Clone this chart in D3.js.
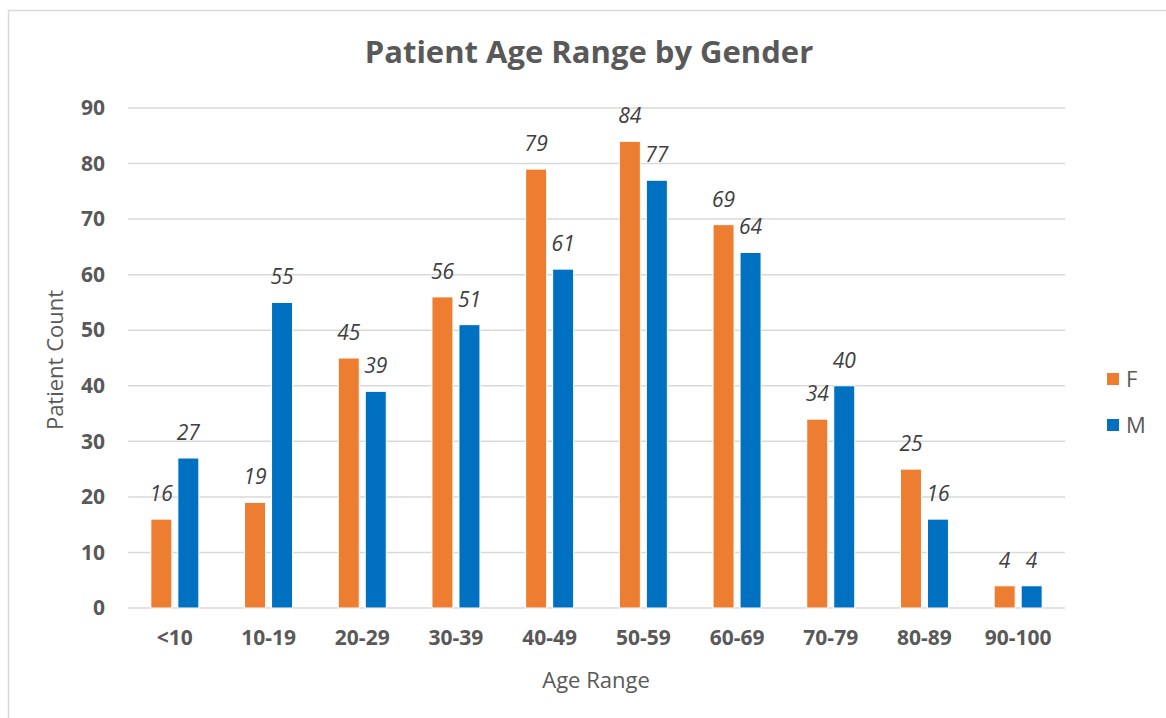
<!DOCTYPE html>
<html><head><meta charset="utf-8">
<script src="https://cdn.jsdelivr.net/npm/d3@7"></script>
<style>body{margin:0;background:#fff}svg{display:block}text{font-family:"Open Sans",sans-serif}</style>
</head><body><svg id="c" width="1166" height="718"></svg>
<script>
const categories = ["<10","10-19","20-29","30-39","40-49","50-59","60-69","70-79","80-89","90-100"];
const seriesNames = ["F","M"];
const valuesF = [16,19,45,56,79,84,69,34,25,4];
const valuesM = [27,55,39,51,61,77,64,40,16,4];
const yTicks = [0,10,20,30,40,50,60,70,80,90];
const colors = {F:"#ed7d31", M:"#0070c0"};

const svg = d3.select("#c");
svg.append("path").attr("d","M8.5,718 V10.5 H1166").attr("fill","none").attr("stroke","#d9d9d9").attr("stroke-width",1.5);

const x0 = 128, x1 = 1065, yTop = 108, yBot = 608;
const x = d3.scaleBand().domain(categories).range([x0,x1]);
const y = d3.scaleLinear().domain([0,90]).range([yBot,yTop]);
const xs = d3.scaleBand().domain(seriesNames).range([-24,24]).paddingInner(0.222);

svg.append("g").selectAll("line").data(yTicks).join("line")
  .attr("x1",x0).attr("x2",x1).attr("y1",d=>y(d)).attr("y2",d=>y(d))
  .attr("stroke","#d9d9d9").attr("stroke-width",1.5);

const yAxis = d3.axisLeft(y).tickValues(yTicks).tickSize(0).tickPadding(23);
const ya = svg.append("g").attr("transform",`translate(${x0},0)`).call(yAxis);
ya.select(".domain").remove();
ya.selectAll("text").attr("font-size",21).attr("font-weight","bold").attr("fill","#595959").attr("font-family","Open Sans");

const xAxis = d3.axisBottom(x).tickSize(0).tickPadding(22);
const xa = svg.append("g").attr("transform",`translate(0,${yBot})`).call(xAxis);
xa.select(".domain").remove();
xa.selectAll("text").attr("font-size",21).attr("font-weight","bold").attr("fill","#595959").attr("font-family","Open Sans");

const data = [];
categories.forEach((c,i)=>{
  data.push({c, s:"F", v:valuesF[i]});
  data.push({c, s:"M", v:valuesM[i]});
});
const cx = d => x(d.c) + x.bandwidth()/2 + xs(d.s);

svg.append("g").selectAll("rect").data(data).join("rect")
  .attr("x",cx).attr("width",xs.bandwidth())
  .attr("y",d=>y(d.v)).attr("height",d=>y(0)-y(d.v))
  .attr("fill",d=>colors[d.s]).attr("stroke","#fff").attr("stroke-width",1);

svg.append("g").selectAll("text").data(data).join("text")
  .attr("x",d=>cx(d)+xs.bandwidth()/2).attr("y",d=>y(d.v)-18)
  .attr("text-anchor","middle").attr("font-size",21).attr("font-style","italic")
  .attr("fill","#404040").text(d=>d.v);

svg.append("text").attr("x",589).attr("y",63).attr("text-anchor","middle")
  .attr("font-size",31).attr("font-weight","bold").attr("fill","#595959")
  .text("Patient Age Range by Gender");

svg.append("text").attr("x",596).attr("y",688).attr("text-anchor","middle")
  .attr("font-size",22).attr("fill","#595959").text("Age Range");
svg.append("text").attr("transform","translate(63,360) rotate(-90)").attr("text-anchor","middle")
  .attr("font-size",22).attr("fill","#595959").text("Patient Count");

const lg = svg.append("g").selectAll("g").data(seriesNames).join("g")
  .attr("transform",(d,i)=>`translate(1107,${373+i*46})`);
lg.append("rect").attr("width",12).attr("height",12).attr("fill",d=>colors[d]);
lg.append("text").attr("x",19).attr("y",14).attr("font-size",22).attr("fill","#595959").text(d=>d);
</script></body></html>
